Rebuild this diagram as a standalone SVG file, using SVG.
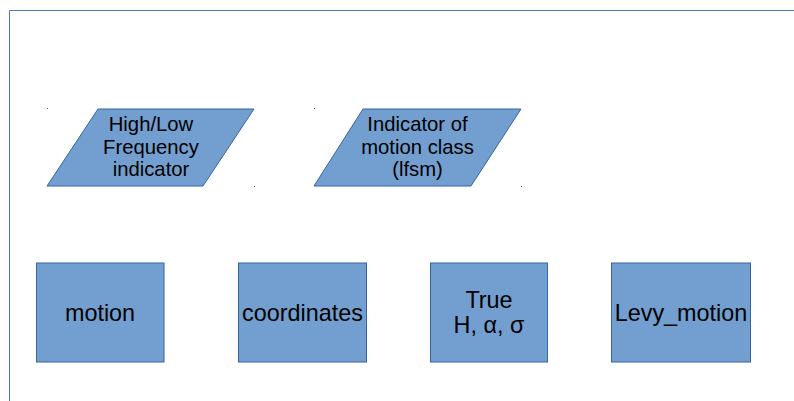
<svg xmlns="http://www.w3.org/2000/svg" width="794" height="401" viewBox="0 0 794 401">
<style>
.shape{fill:#729fcf;stroke:#3465a4;stroke-width:1}
.t{font-family:"Liberation Sans",Arial,sans-serif;fill:#000;text-anchor:middle}
.s{font-size:20.3px}
.b{font-size:23.4px}
.dot{fill:#3465a4}
</style>
<rect width="794" height="401" fill="#fff"/>
<g id="frame" fill="none" stroke="#4a7ebb" stroke-width="1">
<path d="M9.5,401 V10.5 H794"/>
</g>
<g id="connectors"></g>
<g id="hilo">
<rect class="dot" x="47" y="108" width="1" height="1"/>
<rect class="dot" x="254" y="186" width="1" height="1"/>
<polygon class="shape" points="98,109 254,109 203,186 47,186"/>
<text class="t s" x="151" y="131">High/Low</text>
<text class="t s" x="151" y="154">Frequency</text>
<text class="t s" x="151" y="176">indicator</text>
</g>
<g id="lfsm">
<rect class="dot" x="314" y="108" width="1" height="1"/>
<rect class="dot" x="521" y="186" width="1" height="1"/>
<polygon class="shape" points="363,109 521,109 471,186 314,186"/>
<text class="t s" x="417.5" y="131">Indicator of</text>
<text class="t s" x="417.5" y="154">motion class</text>
<text class="t s" x="417.5" y="176">(lfsm)</text>
</g>
<g id="motion">
<rect class="shape" x="36.5" y="263" width="127.5" height="99"/>
<text class="t b" x="100" y="321">motion</text>
</g>
<g id="coordinates">
<rect class="shape" x="238.5" y="263" width="128" height="99"/>
<text class="t b" x="302.5" y="321">coordinates</text>
</g>
<g id="true">
<rect class="shape" x="430.5" y="263" width="117" height="99"/>
<text class="t b" x="489" y="308">True</text>
<text class="t b" x="489" y="333">H, α, σ</text>
</g>
<g id="levy">
<rect class="shape" x="611.5" y="263" width="139" height="99"/>
<text class="t b" x="681" y="321">Levy_motion</text>
</g>
</svg>
